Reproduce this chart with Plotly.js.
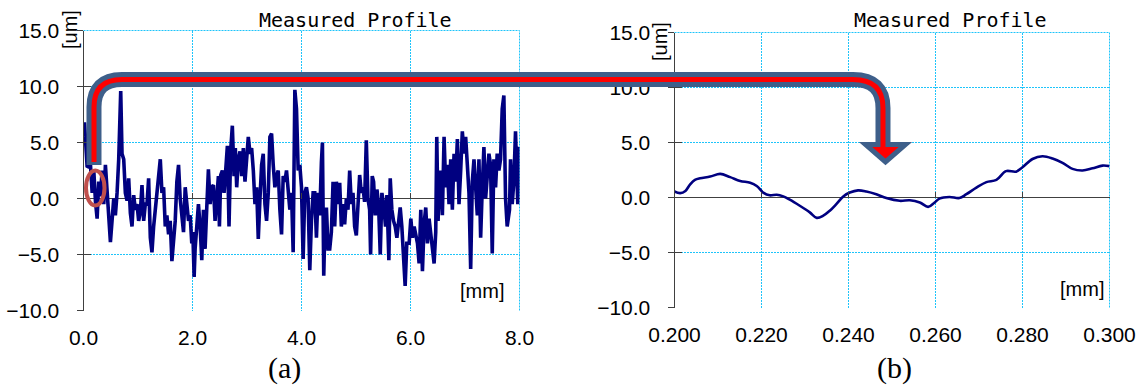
<!DOCTYPE html>
<html><head><meta charset="utf-8">
<script src="https://cdn.plot.ly/plotly-3.0.1.min.js"></script>
<style>html,body{margin:0;padding:0;background:#fff;overflow:hidden}#chart{width:1148px;height:385px}</style>
</head><body><div id="chart"></div>
<script>
// ---------- data ----------
const leftX = [0.000,0.018,0.067,0.128,0.159,0.189,0.220,0.250,0.280,0.311,0.341,0.372,0.402,0.433,0.494,0.555,0.585,0.616,0.646,0.683,0.707,0.738,0.768,0.799,0.829,0.860,0.890,0.921,0.951,0.982,1.012,1.043,1.073,1.104,1.134,1.165,1.195,1.226,1.256,1.287,1.317,1.348,1.378,1.409,1.439,1.470,1.500,1.530,1.561,1.591,1.622,1.652,1.683,1.713,1.744,1.774,1.805,1.835,1.866,1.896,1.927,
1.957,1.987,2.006,2.030,2.048,2.079,2.109,2.140,2.170,2.201,2.231,2.262,2.292,2.323,2.353,2.384,2.414,2.445,2.475,2.494,2.518,2.548,2.579,2.609,2.640,2.670,2.701,2.731,2.762,2.786,2.811,2.841,2.872,2.902,2.933,2.963,2.994,3.024,3.055,3.085,3.116,3.146,3.177,3.207,3.238,3.268,3.298,3.329,3.359,3.390,3.420,3.451,3.481,3.512,3.542,3.573,3.603,3.634,3.664,3.695,3.725,3.756,3.786,3.817,3.847,3.878,3.908,3.939,
3.969,4.000,4.030,4.060,4.091,4.121,4.152,4.182,4.213,4.243,4.274,4.304,4.335,4.365,4.384,4.408,4.432,4.457,4.487,4.518,4.548,4.579,4.609,4.640,4.670,4.701,4.731,4.762,4.792,4.823,4.853,4.884,4.914,4.945,4.975,5.006,5.036,5.067,5.097,5.128,5.158,5.189,5.219,5.250,5.268,5.298,5.323,5.353,5.384,5.414,5.445,5.475,5.506,5.542,5.567,5.603,5.628,5.658,5.689,5.719,5.750,5.780,5.811,5.841,5.872,5.902,5.932,
5.975,6.006,6.036,6.067,6.097,6.128,6.158,6.189,6.219,6.250,6.280,6.311,6.341,6.372,6.402,6.433,6.463,6.482,6.506,6.524,6.555,6.585,6.616,6.646,6.677,6.707,6.738,6.768,6.799,6.829,6.860,6.890,6.921,6.951,6.982,7.012,7.043,7.073,7.104,7.134,7.165,7.195,7.226,7.256,7.287,7.317,7.347,7.378,7.408,7.439,7.469,7.500,7.530,7.561,7.591,7.622,7.652,7.683,7.713,7.744,7.774,7.793,7.817,7.835,7.866,7.896,7.927,7.945,7.969,7.994,8.000];
const leftY = [5.5,6.8,2.8,3.0,0.5,2.5,-0.3,-1.8,1.5,0.2,2.5,-0.5,3.0,1.0,-3.9,0.0,-1.5,0.5,3.5,9.6,4.0,3.5,0.5,-0.2,1.8,-1.3,-2.5,0.3,-1.0,-0.5,-2.0,-1.2,1.2,-2.0,-0.5,-0.5,1.8,-3.5,-4.8,-2.5,-1.0,0.5,1.5,3.5,0.5,1.0,-2.5,-1.5,-3.2,-2.0,-5.6,-3.5,-2.0,1.5,3.0,0.0,-1.5,-3.0,1.0,-0.5,-2.0,
-1.5,-4.0,-3.0,-7.0,-4.5,-2.5,-0.5,-2.5,-5.5,-1.0,-4.5,-0.8,2.6,-0.5,1.0,1.2,-2.0,0.0,2.0,-2.5,2.1,2.5,0.5,2.5,4.7,-2.5,4.3,6.5,2.0,4.5,1.0,3.5,4.2,2.0,4.5,1.5,3.5,5.5,4.0,4.5,2.5,-0.5,1.0,-3.6,0.0,3.0,4.0,-0.5,-2.0,0.5,5.5,5.8,3.0,1.0,2.0,2.5,-1.0,-3.2,2.0,1.5,2.5,1.0,-1.0,0.5,-4.8,9.7,8.0,2.5,
3.0,1.0,-5.4,0.5,1.0,0.0,-6.4,-2.0,0.5,0.5,-3.5,0.5,-1.5,3.2,5.0,-6.9,-2.0,-0.8,-4.5,-4.5,-3.0,1.5,-2.5,1.5,-0.5,1.4,-2.5,-0.5,-2.3,0.0,-1.0,2.5,-0.5,0.5,-2.5,-3.3,0.0,2.1,0.5,1.0,-0.3,5.2,0.0,-1.0,-5.0,2.0,1.5,-1.5,0.8,-0.5,-5.0,0.5,-0.5,-2.5,0.3,-5.5,1.8,-1.0,-2.0,-2.5,-3.5,-1.8,-0.8,-2.5,-5.2,-7.8,-4.0,
-4.0,-1.8,-3.5,-2.5,-3.5,-4.0,-5.8,-1.0,-6.5,-2.2,-0.8,-4.0,-1.8,-3.0,-4.2,-5.8,-3.0,5.5,-2.0,0.5,2.5,-1.5,5.5,1.0,3.0,-0.5,3.5,-1.0,4.0,1.5,5.3,-0.5,2.5,6.0,4.0,5.5,3.0,0.5,-6.3,1.5,3.5,1.0,-1.5,3.5,-3.5,1.0,4.6,0.0,2.5,4.0,3.0,-4.9,3.5,1.0,4.0,2.5,3.5,8.0,9.2,0.0,-2.5,-1.5,-1.0,3.5,-0.5,1.5,6.0,3.0,-0.5,4.5,4.6];

const rightX = [0.2000,0.2013,0.2025,0.2036,0.2047,0.2059,0.2082,0.2105,0.2128,0.2151,0.2174,0.2189,0.2204,0.2219,0.2235,0.2250,0.2265,0.2288,0.2311,0.2327,0.2342,0.2357,0.2372,0.2388,0.2403,0.2422,0.2441,0.2464,0.2487,0.2518,0.2541,0.2564,0.2583,0.2598,0.2609,0.2632,0.2655,0.2671,0.2694,0.2717,0.2740,0.2762,0.2785,0.2800,0.2823,0.2846,0.2869,0.2892,0.2915,0.2938,0.2961,0.2984,0.3000];
const rightY = [0.55,0.40,0.60,1.20,1.60,1.75,1.90,2.15,1.85,1.50,1.35,1.05,0.45,0.20,0.25,0.10,-0.20,-0.75,-1.35,-1.85,-1.65,-1.20,-0.60,0.10,0.45,0.65,0.55,0.30,-0.05,-0.30,-0.25,-0.45,-0.85,-0.45,-0.10,0.05,-0.05,0.30,0.90,1.40,1.60,2.40,2.35,2.75,3.50,3.75,3.55,3.15,2.60,2.45,2.65,2.90,2.85];

const yTicks = [-10,-5,0,5,10,15];
const leftXTicks = [0,2,4,6,8];
const rightXTicks = [0.20,0.22,0.24,0.26,0.28,0.30];
const titleText = 'Measured Profile';
const yUnit = '[um]';
const xUnit = '[mm]';
const panelLabels = ['(a)','(b)'];

// ---------- layout helpers ----------
const W = 1148, H = 385;
const fx = p => p / W;
const fy = p => 1 - p / H;
const yRange = [-10, 15];
const lDom = {x:[fx(83.5), fx(519.5)], y:[fy(310.5), fy(30.5)]};
const rDom = {x:[fx(674.5), fx(1109.5)], y:[fy(307.5), fy(32.5)]};
const zeroPos = d => d.y[0] + (0 - yRange[0]) / (yRange[1] - yRange[0]) * (d.y[1] - d.y[0]);

const tickFont = {family:'"Liberation Sans", Arial, sans-serif', size:21, color:'#000'};
const gridColor = '#1ec4fa';
const gridDash = '2px,1px';
const axisColor = '#404040';

function mainX(dom, range, ticks, fmt, anchor){
  return {domain:dom.x, range:range, anchor:anchor, tickvals:ticks, tickformat:fmt,
    showgrid:true, gridcolor:gridColor, griddash:gridDash, gridwidth:1,
    showline:false, zeroline:false, ticks:'', ticklabelstandoff:12, tickfont:tickFont, fixedrange:true};
}
function mainY(dom, anchor){
  return {domain:dom.y, range:yRange, anchor:anchor, tickvals:yTicks, tickformat:'.1f',
    showgrid:true, gridcolor:gridColor, griddash:gridDash, gridwidth:1,
    showline:true, linecolor:axisColor, linewidth:1, ticks:'outside', ticklen:6, tickcolor:axisColor,
    zeroline:true, zerolinecolor:axisColor, zerolinewidth:1, ticklabelstandoff:13, tickfont:tickFont, fixedrange:true};
}
function zeroX(over, dom, range, ticks){
  return {overlaying:over, anchor:'free', position:zeroPos(dom), range:range, tickvals:ticks,
    ticks:'inside', ticklen:6, tickcolor:axisColor, showticklabels:false, showgrid:false,
    showline:false, zeroline:false, fixedrange:true};
}
function innerY(over, anchor){
  return {overlaying:over, anchor:anchor, side:'left', range:yRange, tickvals:yTicks,
    ticks:'inside', ticklen:7, tickcolor:axisColor, showticklabels:false, showgrid:false,
    showline:false, zeroline:false, fixedrange:true};
}

const traces = [
  {x:leftX, y:leftY, xaxis:'x', yaxis:'y', type:'scatter', mode:'lines',
   line:{color:'#000080', width:3.6}, hoverinfo:'skip'},
  {x:rightX, y:rightY, xaxis:'x2', yaxis:'y2', type:'scatter', mode:'lines',
   line:{color:'#000080', width:2.6, shape:'spline', smoothing:1}, hoverinfo:'skip'},
  {x:[], y:[], xaxis:'x3', yaxis:'y', type:'scatter', mode:'none', hoverinfo:'skip'},
  {x:[], y:[], xaxis:'x4', yaxis:'y2', type:'scatter', mode:'none', hoverinfo:'skip'},
  {x:[], y:[], xaxis:'x', yaxis:'y3', type:'scatter', mode:'none', hoverinfo:'skip'},
  {x:[], y:[], xaxis:'x2', yaxis:'y4', type:'scatter', mode:'none', hoverinfo:'skip'}
];

// arrow / marker decorations (pixel -> paper)
function path(cmds){
  return cmds.map(c => c[0] + ' ' + c.slice(1).map((v,i) => (i % 2 === 0 ? fx(v) : fy(v)).toFixed(5)).join(',')).join(' ');
}
const arrowBlue = path([['M',94,165],['L',94,107],['Q',94,79.5,122,79.5],['L',853,79.5],['Q',883,79.5,883,108],['L',883,146]]);
const arrowRed  = path([['M',94,162],['L',94,107],['Q',94,79.5,122,79.5],['L',853,79.5],['Q',883,79.5,883,108],['L',883,150]]);
const headPath  = path([['M',865.5,144.5],['L',905.5,144.5],['L',885.5,162],['Z']]);

const edge = (xr, yr, x0, x1, y0, y1) => ({type:'line', xref:xr, yref:yr, x0:x0, x1:x1, y0:y0, y1:y1,
  layer:'below', line:{color:gridColor, width:1, dash:gridDash}});

const shapes = [
  edge('x domain', 'y domain', 0, 1, 1, 1),
  edge('x domain', 'y domain', 1, 1, 0, 1),
  edge('x2 domain', 'y2 domain', 0, 1, 1, 1),
  edge('x2 domain', 'y2 domain', 1, 1, 0, 1),
  {type:'circle', xref:'paper', yref:'paper', x0:fx(86), x1:fx(104.5), y0:fy(170.5), y1:fy(205.5),
   line:{color:'#c0504d', width:4}},
  {type:'path', xref:'paper', yref:'paper', path:arrowBlue, line:{color:'#3e5f8a', width:15}},
  {type:'path', xref:'paper', yref:'paper', path:headPath, fillcolor:'#ff0000', line:{color:'#3e5f8a', width:5}},
  {type:'path', xref:'paper', yref:'paper', path:arrowRed, line:{color:'#ff0000', width:5}}
];

const titleFont = {family:'"DejaVu Sans Mono", "Liberation Mono", monospace', size:20, color:'#000'};
const unitFont = {family:'"Liberation Sans", Arial, sans-serif', size:20, color:'#000'};
const panelFont = {family:'"Liberation Serif", "Times New Roman", serif', size:30, color:'#000'};
const ann = (text, px, py, font, extra) => Object.assign({text:text, xref:'paper', yref:'paper', x:fx(px), y:fy(py),
  xanchor:'center', yanchor:'middle', showarrow:false, font:font}, extra||{});

const annotations = [
  ann(titleText, 355, 20, titleFont),
  ann(titleText, 950, 20, titleFont),
  ann(yUnit, 70, 30, unitFont, {textangle:-90}),
  ann(yUnit, 660, 42, unitFont, {textangle:-90}),
  ann(xUnit, 481.7, 290.5, unitFont),
  ann(xUnit, 1081.7, 288.5, unitFont),
  ann(panelLabels[0], 284, 368, panelFont),
  ann(panelLabels[1], 894, 368, panelFont)
];

const layout = {
  width:W, height:H, autosize:false,
  margin:{l:0, r:0, t:0, b:0, pad:0},
  paper_bgcolor:'#fff', plot_bgcolor:'rgba(0,0,0,0)',
  showlegend:false,
  xaxis: mainX(lDom, [0,8], leftXTicks, '.1f', 'y'),
  yaxis: mainY(lDom, 'x'),
  xaxis2: mainX(rDom, [0.2,0.3], rightXTicks, '.3f', 'y2'),
  yaxis2: mainY(rDom, 'x2'),
  xaxis3: zeroX('x', lDom, [0,8], leftXTicks),
  xaxis4: zeroX('x2', rDom, [0.2,0.3], rightXTicks),
  yaxis3: innerY('y', 'x'),
  yaxis4: innerY('y2', 'x2'),
  shapes:shapes,
  annotations:annotations
};

Plotly.newPlot('chart', traces, layout, {displayModeBar:false, staticPlot:true});
</script>
</body></html>
